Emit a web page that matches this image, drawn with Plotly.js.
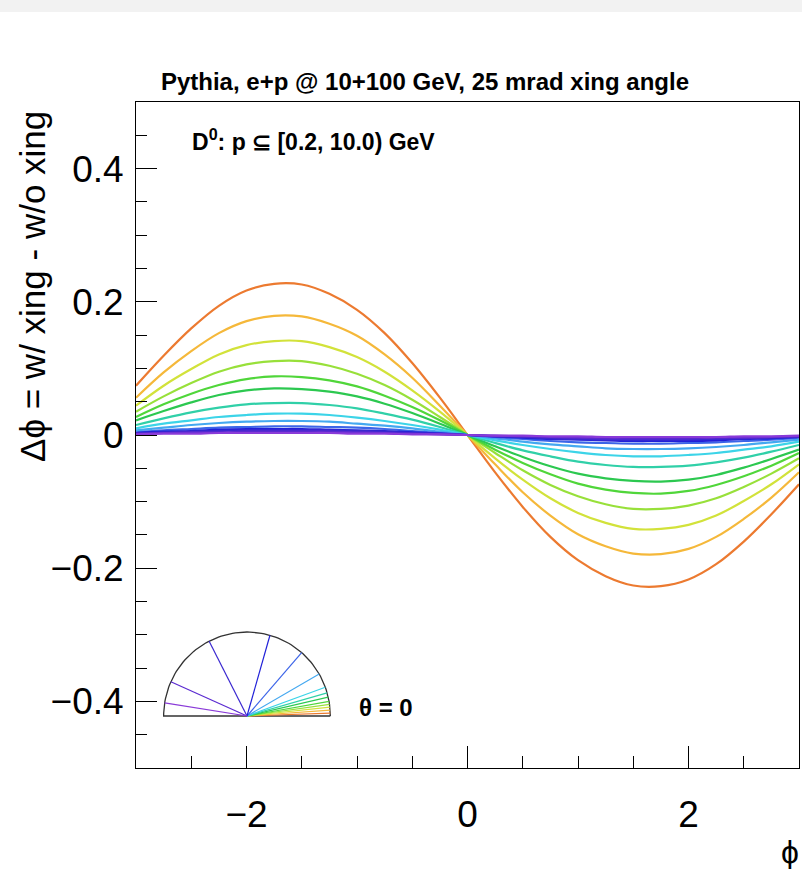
<!DOCTYPE html>
<html>
<head>
<meta charset="utf-8">
<script src="https://cdn.plot.ly/plotly-3.0.1.min.js"></script>
<style>html,body{margin:0;padding:0;background:#fff;}#plot{width:802px;height:869px;}</style>
</head>
<body>
<div id="plot"></div>
<script>
// phi grid
const PHI = [-3, -2.75, -2.5, -2.25, -2, -1.75, -1.5, -1.25, -1, -0.75, -0.5, -0.25, 0,
             0.25, 0.5, 0.75, 1, 1.25, 1.5, 1.75, 2, 2.25, 2.5, 2.75, 3];

// polar angle of each curve (degrees), as drawn in the inset
const THETA = [2, 4, 6, 8, 10, 13, 16, 20, 30, 49, 74, 117, 156, 171];

const COLORS = ["#ec7a30", "#f5b83a", "#d2e23a", "#98e03a", "#50d63a", "#2cc850", "#30d0a8",
                "#3cd4e8", "#44a8f0", "#3c64e8", "#2020d8", "#3a28d0", "#5a2ad0", "#8a3ad8"];

// delta phi = w/ xing - w/o xing, one array per theta
const dphi_t2   = [0.074,0.119,0.160,0.194,0.217,0.227,0.226,0.212,0.188,0.153,0.108,0.056,0,-0.056,-0.108,-0.153,-0.188,-0.212,-0.226,-0.227,-0.217,-0.194,-0.160,-0.119,-0.074];
const dphi_t4   = [0.056,0.094,0.126,0.153,0.171,0.179,0.178,0.167,0.149,0.121,0.086,0.044,0,-0.044,-0.086,-0.121,-0.149,-0.167,-0.178,-0.179,-0.171,-0.153,-0.126,-0.094,-0.056];
const dphi_t6   = [0.044,0.074,0.099,0.121,0.135,0.141,0.141,0.132,0.117,0.095,0.067,0.035,0,-0.035,-0.067,-0.095,-0.117,-0.132,-0.141,-0.141,-0.135,-0.121,-0.099,-0.074,-0.044];
const dphi_t8   = [0.035,0.058,0.078,0.095,0.106,0.111,0.111,0.104,0.092,0.075,0.053,0.027,0,-0.027,-0.053,-0.075,-0.092,-0.104,-0.111,-0.111,-0.106,-0.095,-0.078,-0.058,-0.035];
const dphi_t10  = [0.027,0.046,0.062,0.075,0.084,0.088,0.087,0.082,0.073,0.059,0.042,0.022,0,-0.022,-0.042,-0.059,-0.073,-0.082,-0.087,-0.088,-0.084,-0.075,-0.062,-0.046,-0.027];
const dphi_t13  = [0.022,0.036,0.049,0.060,0.067,0.070,0.069,0.065,0.058,0.047,0.033,0.017,0,-0.017,-0.033,-0.047,-0.058,-0.065,-0.069,-0.070,-0.067,-0.060,-0.049,-0.036,-0.022];
const dphi_t16  = [0.015,0.025,0.034,0.041,0.046,0.048,0.048,0.045,0.040,0.032,0.023,0.012,0,-0.012,-0.023,-0.032,-0.040,-0.045,-0.048,-0.048,-0.046,-0.041,-0.034,-0.025,-0.015];
const dphi_t20  = [0.010,0.017,0.022,0.027,0.030,0.032,0.032,0.030,0.026,0.021,0.015,0.008,0,-0.008,-0.015,-0.021,-0.026,-0.030,-0.032,-0.032,-0.030,-0.027,-0.022,-0.017,-0.010];
const dphi_t30  = [0.007,0.011,0.015,0.018,0.020,0.021,0.021,0.020,0.017,0.014,0.010,0.005,0,-0.005,-0.010,-0.014,-0.017,-0.020,-0.021,-0.021,-0.020,-0.018,-0.015,-0.011,-0.007];
const dphi_t49  = [0.004,0.007,0.009,0.011,0.012,0.013,0.013,0.012,0.011,0.009,0.006,0.003,0,-0.003,-0.006,-0.009,-0.011,-0.012,-0.013,-0.013,-0.012,-0.011,-0.009,-0.007,-0.004];
const dphi_t74  = [0.003,0.005,0.006,0.008,0.009,0.009,0.009,0.008,0.007,0.006,0.004,0.002,0,-0.002,-0.004,-0.006,-0.007,-0.008,-0.009,-0.009,-0.009,-0.008,-0.006,-0.005,-0.003];
const dphi_t117 = [0.002,0.004,0.005,0.006,0.007,0.007,0.007,0.007,0.006,0.005,0.003,0.002,0,-0.002,-0.003,-0.005,-0.006,-0.007,-0.007,-0.007,-0.007,-0.006,-0.005,-0.004,-0.002];
const dphi_t156 = [0.002,0.003,0.004,0.004,0.005,0.005,0.005,0.005,0.004,0.003,0.002,0.001,0,-0.001,-0.002,-0.003,-0.004,-0.005,-0.005,-0.005,-0.005,-0.004,-0.004,-0.003,-0.002];
const dphi_t171 = [0.001,0.002,0.002,0.003,0.003,0.003,0.003,0.003,0.002,0.002,0.001,0.001,0,-0.001,-0.001,-0.002,-0.002,-0.003,-0.003,-0.003,-0.003,-0.003,-0.002,-0.002,-0.001];

const SERIES = [dphi_t2, dphi_t4, dphi_t6, dphi_t8, dphi_t10, dphi_t13, dphi_t16, dphi_t20,
                dphi_t30, dphi_t49, dphi_t74, dphi_t117, dphi_t156, dphi_t171];

const FONT = "Liberation Sans, Arial, Helvetica, sans-serif";

const traces = [];
SERIES.forEach((ys, i) => {
  traces.push({
    x: PHI, y: ys, type: "scatter", mode: "lines",
    line: {color: COLORS[i], width: 2.2, shape: "spline", smoothing: 1},
    hoverinfo: "skip", showlegend: false, xaxis: "x", yaxis: "y"
  });
});

// inset: semicircle outline
const arcX = [], arcY = [];
for (let a = 0; a <= 180; a += 2) {
  arcX.push(Math.cos(a * Math.PI / 180));
  arcY.push(Math.sin(a * Math.PI / 180));
}
arcX.push(-1); arcY.push(0); arcX.push(1); arcY.push(0);
traces.push({
  x: arcX, y: arcY, type: "scatter", mode: "lines",
  line: {color: "#333333", width: 1.3}, hoverinfo: "skip", showlegend: false,
  xaxis: "x2", yaxis: "y2"
});
// inset: one ray per theta
THETA.forEach((t, i) => {
  const r = t * Math.PI / 180;
  traces.push({
    x: [0, Math.cos(r)], y: [0, Math.sin(r)], type: "scatter", mode: "lines",
    line: {color: COLORS[i], width: 1.2}, hoverinfo: "skip", showlegend: false,
    xaxis: "x2", yaxis: "y2"
  });
});

const layout = {
  width: 802, height: 869,
  margin: {l: 136, r: 3, t: 102, b: 101},
  paper_bgcolor: "#ffffff", plot_bgcolor: "#ffffff",
  font: {family: FONT, color: "#000"},
  showlegend: false,
  title: {
    text: "<b>Pythia, e+p @ 10+100 GeV, 25 mrad xing angle</b>",
    font: {family: FONT, size: 24, color: "#000"},
    xref: "container", x: 425 / 802, xanchor: "center",
    yref: "container", y: 1 - 82 / 869, yanchor: "middle"
  },
  xaxis: {
    range: [-3, 3], showgrid: false, zeroline: false,
    showline: true, linecolor: "#000", linewidth: 1, mirror: true,
    ticks: "inside", tickvals: [-2, 0, 2], ticktext: ["\u22122", "0", "2"],
    ticklen: 22, tickwidth: 1, tickcolor: "#000",
    minor: {dtick: 0.5, tick0: 0, ticks: "inside", ticklen: 12, tickwidth: 1, tickcolor: "#000"},
    tickfont: {family: FONT, size: 37, color: "#000"},
    ticklabelstandoff: 14
  },
  yaxis: {
    range: [-0.5, 0.5], showgrid: false, zeroline: false,
    showline: true, linecolor: "#000", linewidth: 1, mirror: true,
    ticks: "inside", tickvals: [-0.4, -0.2, 0, 0.2, 0.4],
    ticktext: ["\u22120.4", "\u22120.2", "0", "0.2", "0.4"],
    ticklen: 21, tickwidth: 1, tickcolor: "#000",
    minor: {dtick: 0.05, tick0: 0, ticks: "inside", ticklen: 11, tickwidth: 1, tickcolor: "#000"},
    tickfont: {family: FONT, size: 37, color: "#000"},
    ticklabelstandoff: 4
  },
  xaxis2: {
    domain: [0.0354, 0.2994], range: [-1.05, 1.05], anchor: "y2",
    visible: false, showgrid: false, zeroline: false, fixedrange: true
  },
  yaxis2: {
    domain: [0.0718, 0.2105], range: [-0.05, 1.05], anchor: "x2",
    visible: false, showgrid: false, zeroline: false, fixedrange: true
  },
  shapes: [
    {type: "rect", xref: "paper", yref: "paper", x0: -0.21, x1: 1.01,
     y0: (768 - 12) / 666, y1: 768 / 666, fillcolor: "#f2f2f2", line: {width: 0}, layer: "below"}
  ],
  annotations: [
    {text: "<b>D<sup>0</sup>: p \u2286 [0.2, 10.0) GeV</b>", xref: "paper", yref: "paper",
     x: (190 - 136) / 663, y: (768 - 140) / 666, xanchor: "left", yanchor: "middle",
     showarrow: false, font: {family: FONT, size: 23, color: "#000"}},
    {text: "<b>\u03b8 = 0</b>", xref: "paper", yref: "paper",
     x: (357 - 136) / 663, y: (768 - 707) / 666, xanchor: "left", yanchor: "middle",
     showarrow: false, font: {family: FONT, size: 24, color: "#000"}},
    {text: "\u0394\u03d5 = w/ xing - w/o xing", xref: "paper", yref: "paper",
     x: (32 - 136) / 663, y: (768 - 287) / 666, xanchor: "center", yanchor: "middle",
     textangle: -90, showarrow: false, font: {family: FONT, size: 35, color: "#000"}},
    {text: "\u03d5", xref: "paper", yref: "paper",
     x: (790 - 136) / 663, y: (768 - 852) / 666, xanchor: "center", yanchor: "middle",
     showarrow: false, font: {family: FONT, size: 32, color: "#000"}}
  ]
};

Plotly.newPlot("plot", traces, layout, {staticPlot: true, displayModeBar: false});
</script>
</body>
</html>
